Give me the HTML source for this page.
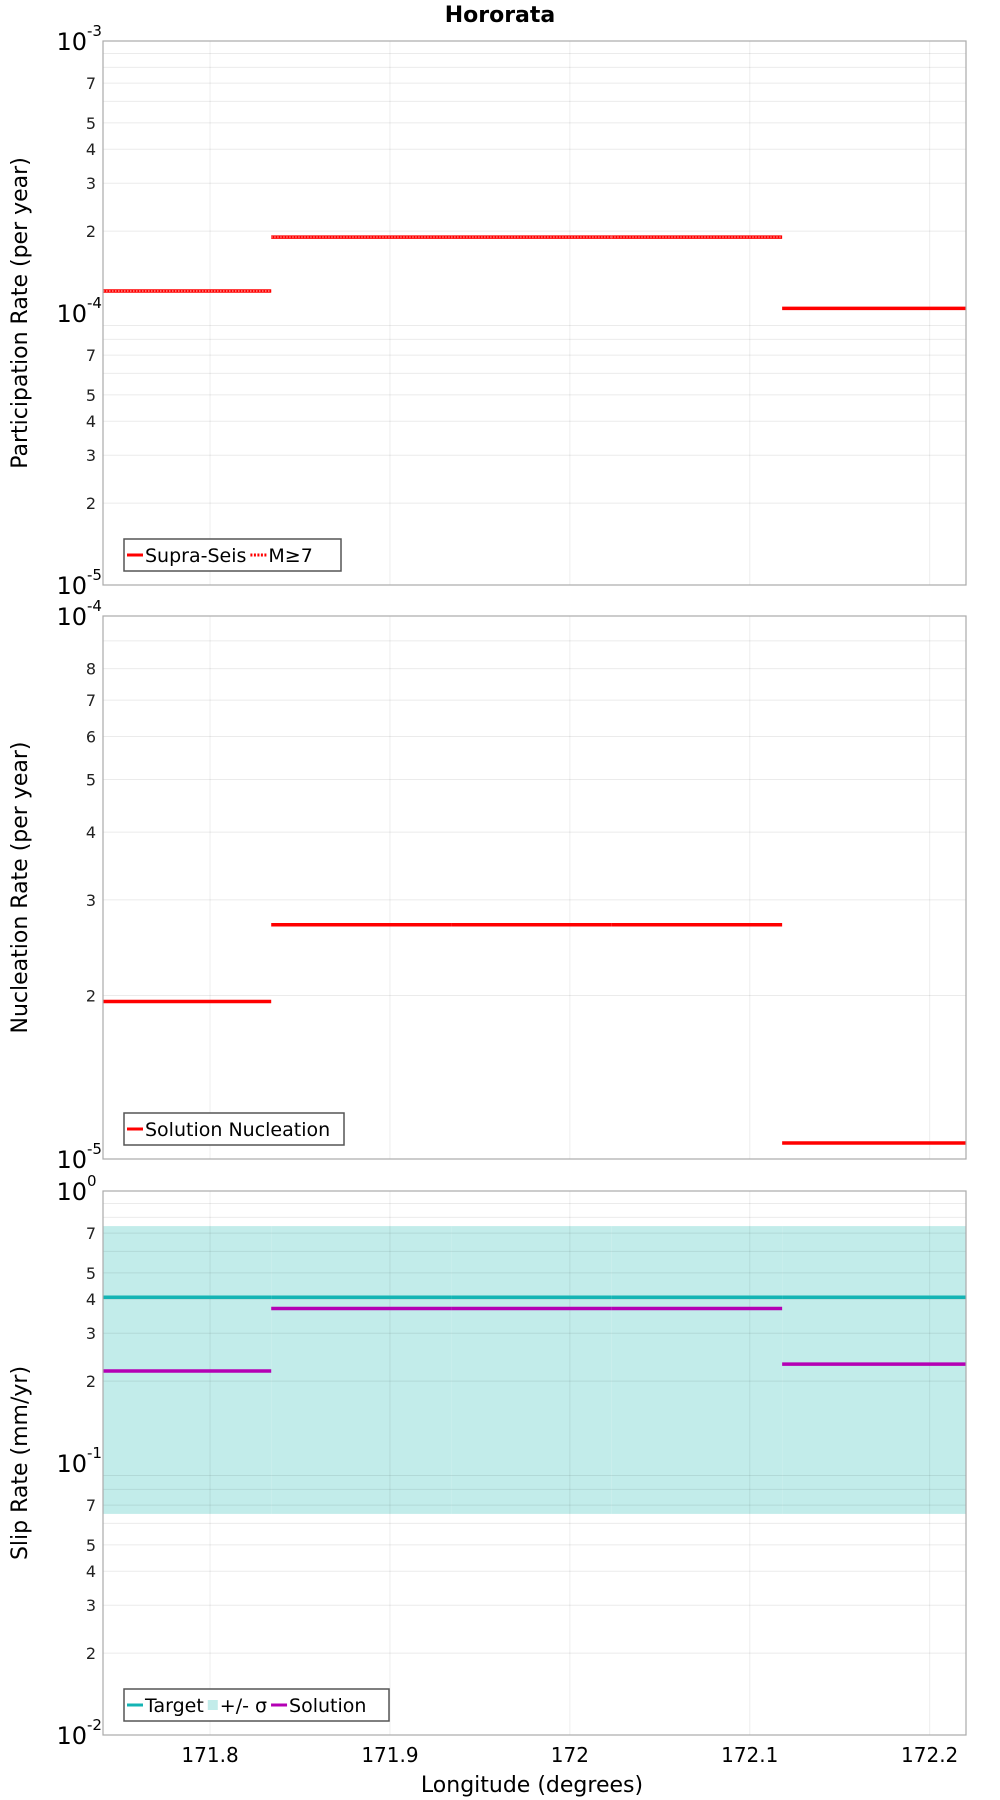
<!DOCTYPE html>
<html><head><meta charset="utf-8"><style>
body{margin:0;background:#fff;}
svg{display:block;font-family:"DejaVu Sans","Liberation Sans",sans-serif;}
</style></head><body>
<svg id="c" width="1000" height="1800" xmlns="http://www.w3.org/2000/svg"></svg>
<script>
const segLon = [171.7405, 171.834, 171.934, 172.023, 172.118, 172.2202];
const partSupra = [1.205e-4, 1.9e-4, 1.9e-4, 1.9e-4, 1.04e-4];
const partM7 = [1.205e-4, 1.9e-4, 1.9e-4, 1.9e-4, null];
const nucl = [1.95e-5, 2.7e-5, 2.7e-5, 2.7e-5, 1.07e-5];
const slipTarget = [0.407, 0.407, 0.407, 0.407, 0.407];
const slipHi = [0.743, 0.743, 0.743, 0.743, 0.743];
const slipLo = [0.065, 0.065, 0.065, 0.065, 0.065];
const slipSol = [0.218, 0.37, 0.37, 0.37, 0.231];
const xTicks = [171.8, 171.9, 172, 172.1, 172.2];
const xTickLabels = ["171.8", "171.9", "172", "172.1", "172.2"];

const NS = "http://www.w3.org/2000/svg";
const svg = document.getElementById('c');
function mk(tag, attrs, parent, text){
  const e = document.createElementNS(NS, tag);
  for (const k in attrs) e.setAttribute(k, attrs[k]);
  if (text !== undefined) e.textContent = text;
  (parent || svg).appendChild(e);
  return e;
}
const L = 103, R = 966;
const xMin = segLon[0], xMax = segLon[segLon.length-1];
function xs(v){ return L + (v - xMin) / (xMax - xMin) * (R - L); }

function panel(name, top, bot, e0, e1, minorLabels, title, cfg){
  const g = mk('g', {});
  
  
  const ys = v => bot - (Math.log10(v) - e0) / (e1 - e0) * (bot - top);
  if (cfg.band){
    for (let i = 0; i < cfg.band[0].length; i++){
      const r = mk('rect', {x: xs(segLon[i]), y: ys(cfg.band[0][i]), width: xs(segLon[i+1]) - xs(segLon[i]), height: ys(cfg.band[1][i]) - ys(cfg.band[0][i]), fill: '#c2ecea'}, g);
      
      
    }
  }
  for (let e = e0; e < e1; e++){
    for (let m = 1; m <= 9; m++){
      const v = m * Math.pow(10, e);
      if (m > 1) mk('line', {x1: L, x2: R, y1: ys(v), y2: ys(v), stroke: '#000', 'stroke-opacity': 0.08, 'stroke-width': 1}, g);
      if (m > 1 && minorLabels.includes(m)){
        const t = mk('text', {x: 96, y: ys(v) + 6, 'text-anchor': 'end', 'font-size': 16, fill: '#222'}, g, String(m));
        
        
      }
    }
  }
  for (const xv of xTicks) mk('line', {x1: xs(xv), x2: xs(xv), y1: top, y2: bot, stroke: '#000', 'stroke-opacity': 0.07}, g);
  for (let e = e0; e <= e1; e++){
    const t = mk('text', {x: 87, y: ys(Math.pow(10, e)) + 9, 'text-anchor': 'end', 'font-size': 24, fill: '#000'}, g, '10');
    
    
    mk('text', {x: 87, y: ys(Math.pow(10, e)) - 5, 'font-size': 15, fill: '#000'}, g, String(e));
  }
  for (const s of cfg.series){
    for (let i = 0; i < s.vals.length; i++){
      if (s.vals[i] == null) continue;
      const ln = mk('line', {x1: xs(segLon[i]), x2: xs(segLon[i+1]), y1: ys(s.vals[i]), y2: ys(s.vals[i]), stroke: s.color, 'stroke-width': s.w}, g);
      if (s.dash) ln.setAttribute('stroke-dasharray', s.dash);
      
      
    }
  }
  const fr = mk('rect', {x: L, y: top, width: R - L, height: bot - top, fill: 'none', stroke: '#aaa', 'stroke-width': 1.2}, g);
  
  
  const cy = (top + bot) / 2;
  const yt = mk('text', {x: 0, y: 0, transform: `translate(27,${cy}) rotate(-90)`, 'text-anchor': 'middle', 'font-size': 22, fill: '#000'}, g, title);
  
  
  const lg = mk('g', {}, g);
  
  
  const lb = cfg.legend;
  mk('rect', {x: 124, y: lb.y, width: lb.w, height: 32, fill: '#fff', stroke: '#555', 'stroke-width': 1.5}, lg);
  let x = 127;
  for (const it of lb.items){
    if (it.type === 'box') mk('rect', {x: x, y: lb.y + 11, width: 10, height: 10, fill: it.color}, lg);
    else { const l = mk('line', {x1: x, x2: x + 16, y1: lb.y + 16, y2: lb.y + 16, stroke: it.color, 'stroke-width': 3}, lg); if (it.dash) l.setAttribute('stroke-dasharray', it.dash); }
    x += it.type === 'box' ? 12 : 18;
    const t = mk('text', {x: x, y: lb.y + 23, 'font-size': 19, fill: '#000'}, lg, it.label);
    
    
    x += t.getComputedTextLength() + 4;
  }
}

const title = mk('text', {x: 500, y: 22, 'text-anchor': 'middle', 'font-size': 22, 'font-weight': 'bold'}, svg, 'Hororata');



panel('participation-panel', 41, 585, -5, -3, [2,3,4,5,7], 'Participation Rate (per year)', {
  series: [{vals: partSupra, color: '#f00', w: 3.5, name: 'supra-seis-line'}, {vals: partM7, color: '#ff6666', w: 2, dash: '1.5 1.5', name: 'm7-line'}],
  legend: {y: 539, w: 217, items: [{label: 'Supra-Seis', color: '#f00'}, {label: 'M≥7', color: '#f00', dash: '2 1.5'}]}
});
panel('nucleation-panel', 616, 1159, -5, -4, [2,3,4,5,6,7,8], 'Nucleation Rate (per year)', {
  series: [{vals: nucl, color: '#f00', w: 3.5, name: 'nucleation-line'}],
  legend: {y: 1113, w: 220, items: [{label: 'Solution Nucleation', color: '#f00'}]}
});
panel('slip-rate-panel', 1191, 1735, -2, 0, [2,3,4,5,7], 'Slip Rate (mm/yr)', {
  band: [slipHi, slipLo],
  series: [{vals: slipTarget, color: '#14b4b4', w: 3.5, name: 'target-line'}, {vals: slipSol, color: '#b400b4', w: 3.5, name: 'solution-line'}],
  legend: {y: 1689, w: 265, items: [{label: 'Target', color: '#14b4b4'}, {label: '+/- σ', color: '#c2ecea', type: 'box'}, {label: 'Solution', color: '#b400b4'}]}
});

for (let i = 0; i < xTicks.length; i++){
  const t = mk('text', {x: xs(xTicks[i]), y: 1762, 'text-anchor': 'middle', 'font-size': 20, fill: '#000'}, svg, xTickLabels[i]);
  
  
}
const xt = mk('text', {x: 532, y: 1792, 'text-anchor': 'middle', 'font-size': 22}, svg, 'Longitude (degrees)');


</script>
</body></html>
